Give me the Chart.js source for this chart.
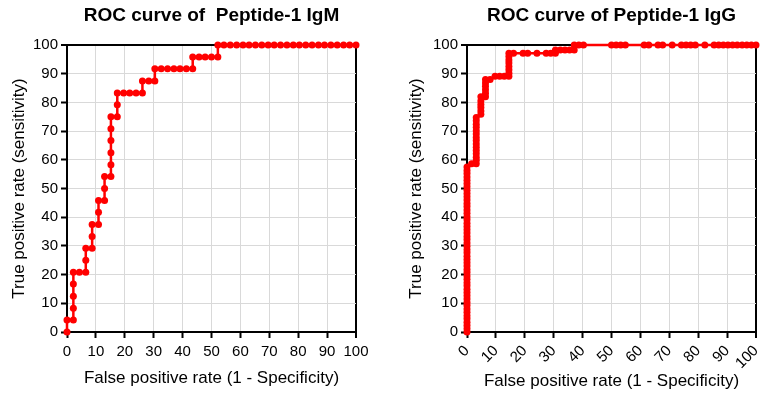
<!DOCTYPE html>
<html>
<head>
<meta charset="utf-8">
<script src="https://cdn.jsdelivr.net/npm/chart.js@4"></script>
<style>
  body { margin: 0; background: #fff; }
  .box { position: absolute; top: 0; width: 384px; height: 400px; }
</style>
</head>
<body>
<div class="box" style="left:0"><canvas id="igm"></canvas></div>
<div class="box" style="left:384px"><canvas id="igg"></canvas></div>
<script>
// IgM ROC points (false positive rate %, true positive rate %)
const igmFpr = [0, 0, 2.2, 2.2, 2.2, 2.2, 2.2, 4.3, 6.5, 6.5, 6.5, 8.7, 8.7, 8.7, 10.9, 10.9, 10.9,
  13.0, 13.0, 13.0, 15.2, 15.2, 15.2, 15.2, 15.2, 15.2, 17.4, 17.4, 17.4, 19.6, 21.7, 23.9, 26.1, 26.1,
  28.3, 30.4, 30.4, 32.6, 34.8, 37.0, 39.1, 41.3, 43.5, 43.5, 45.7, 47.8, 50.0, 52.2, 52.2,
  54.3, 56.5, 58.7, 60.9, 63.0, 65.2, 67.4, 69.6, 71.7, 73.9, 76.1, 78.3, 80.4, 82.6, 84.8, 87.0,
  89.1, 91.3, 93.5, 95.7, 97.8, 100];
const igmTpr = [0, 4.2, 4.2, 8.3, 12.5, 16.7, 20.8, 20.8, 20.8, 25.0, 29.2, 29.2, 33.3, 37.5, 37.5, 41.7, 45.8,
  45.8, 50.0, 54.2, 54.2, 58.3, 62.5, 66.7, 70.8, 75.0, 75.0, 79.2, 83.3, 83.3, 83.3, 83.3, 83.3, 87.5,
  87.5, 87.5, 91.7, 91.7, 91.7, 91.7, 91.7, 91.7, 91.7, 95.8, 95.8, 95.8, 95.8, 95.8, 100,
  100, 100, 100, 100, 100, 100, 100, 100, 100, 100, 100, 100, 100, 100, 100, 100,
  100, 100, 100, 100, 100, 100];

// IgG ROC points
const iggFpr = [0, 0, 0, 0, 0, 0, 0, 0, 0, 0, 0, 0, 0, 0, 0, 0, 0, 0, 0, 0, 0, 0, 0, 0, 0, 0,
  0, 0, 0, 0, 0, 0, 0, 0, 0, 0, 0, 0, 0, 0, 0, 0, 0, 0, 0, 0, 0, 0, 0, 0, 0,
  1.6, 3.2, 3.2, 3.2, 3.2, 3.2, 3.2, 3.2, 3.2, 3.2, 3.2, 3.2, 3.2, 3.2, 3.2, 3.2,
  4.8, 4.8, 4.8, 4.8, 4.8, 4.8, 6.4, 6.4, 6.4, 6.4, 6.4, 6.4, 8.0, 9.7, 11.3, 12.9, 14.5,
  14.5, 14.5, 14.5, 14.5, 14.5, 14.5, 14.5, 16.1, 19.4, 21.0, 24.2, 27.4, 29.0, 30.6, 30.6,
  32.3, 33.9, 35.5, 37.1, 37.1, 38.7, 40.3,
  50.0, 51.6, 53.2, 54.8, 61.3, 62.9, 66.1, 67.7, 71.0, 74.2, 75.8, 77.4, 79.0, 82.3,
  85.5, 87.1, 88.7, 90.3, 91.9, 93.5, 95.2, 96.8, 98.4, 100];
const iggTpr = [0, 1.1, 2.3, 3.4, 4.6, 5.7, 6.9, 8.0, 9.2, 10.3, 11.5, 12.6, 13.8, 14.9, 16.1, 17.2,
  18.4, 19.5, 20.7, 21.8, 23.0, 24.1, 25.3, 26.4, 27.6, 28.7, 29.9, 31.0, 32.2, 33.3, 34.5, 35.6,
  36.8, 37.9, 39.1, 40.2, 41.4, 42.5, 43.7, 44.8, 46.0, 47.1, 48.3, 49.4, 50.6, 51.7, 52.9, 54.0,
  55.2, 56.3, 57.5,
  58.6, 58.6, 59.8, 60.9, 62.1, 63.2, 64.4, 65.5, 66.7, 67.8, 69.0, 70.1, 71.3, 72.4, 73.6, 74.7,
  75.9, 77.0, 78.2, 79.3, 80.5, 82.0, 82.0, 83.2, 84.4, 85.6, 86.8, 88.0, 88.0, 89.1, 89.1, 89.1, 89.1,
  90.2, 91.4, 92.5, 93.7, 94.8, 96.0, 97.1, 97.1, 97.1, 97.1, 97.1, 97.1, 97.1, 97.1, 98.3,
  98.3, 98.3, 98.3, 98.3, 100, 100, 100,
  100, 100, 100, 100, 100, 100, 100, 100, 100, 100, 100, 100, 100, 100,
  100, 100, 100, 100, 100, 100, 100, 100, 100, 100];

const tickValues = [0, 10, 20, 30, 40, 50, 60, 70, 80, 90, 100];

Chart.defaults.font.family = '"Liberation Sans", Arial, sans-serif';
Chart.defaults.color = '#000';

const plotTitle = {
  id: 'plotTitle',
  afterDraw(chart, args, opts) {
    const { ctx, chartArea } = chart;
    ctx.save();
    ctx.font = 'bold 19px "Liberation Sans", Arial, sans-serif';
    ctx.fillStyle = '#000';
    ctx.textAlign = 'center';
    ctx.textBaseline = 'middle';
    ctx.fillText(opts.text, (chartArea.left + chartArea.right) / 2, 16);
    ctx.restore();
  }
};

function gridColor(c) {
  return c.tick && c.tick.value === 100 ? '#000' : '#d9d9d9';
}
function gridWidth(c) {
  return c.tick && c.tick.value === 100 ? 2 : 1;
}

function makeChart(id, xs, ys, title, opt) {
  const points = xs.map((x, i) => ({ x: x, y: ys[i] }));
  return new Chart(document.getElementById(id), {
    type: 'scatter',
    data: {
      datasets: [{
        data: points,
        showLine: true,
        borderColor: '#ff0000',
        backgroundColor: '#ff0000',
        borderWidth: 2.5,
        pointRadius: 3.5,
        pointBorderWidth: 0,
        tension: 0,
        clip: false
      }]
    },
    options: {
      responsive: true,
      maintainAspectRatio: false,
      animation: false,
      layout: { padding: { top: 45, left: opt.padLeft, right: opt.padRight, bottom: 0 } },
      plugins: {
        legend: { display: false },
        tooltip: { enabled: false },
        plotTitle: { text: title }
      },
      scales: {
        x: {
          type: 'linear',
          min: 0,
          max: 100,
          afterBuildTicks: s => { s.ticks = tickValues.map(v => ({ value: v })); },
          afterFit: s => {
            s.height = 68;
            s.paddingLeft = 0;
            s.paddingRight = 0;
          },
          ticks: {
            font: { size: 15 },
            color: '#000',
            padding: opt.xTickPad,
            autoSkip: false,
            minRotation: opt.rotation,
            maxRotation: opt.rotation
          },
          grid: { color: gridColor, lineWidth: gridWidth, tickLength: 6, tickColor: '#000', tickWidth: 2 },
          border: { color: '#000', width: 2 },
          title: {
            display: true,
            text: 'False positive rate (1 - Specificity)',
            font: { size: 17 },
            color: '#000',
            padding: { top: 0, bottom: opt.xTitlePad }
          }
        },
        y: {
          min: 0,
          max: 100,
          afterBuildTicks: s => { s.ticks = tickValues.map(v => ({ value: v })); },
          afterFit: s => { s.width = 67; },
          ticks: { font: { size: 15 }, color: '#000', padding: 3, autoSkip: false },
          grid: { color: gridColor, lineWidth: gridWidth, tickLength: 6, tickColor: '#000', tickWidth: 2 },
          border: { color: '#000', width: 2 },
          title: {
            display: true,
            text: 'True positive rate (sensitivity)',
            font: { size: 17 },
            color: '#000',
            padding: { top: opt.yTitlePad, bottom: 0 }
          }
        }
      }
    },
    plugins: [plotTitle]
  });
}

makeChart('igm', igmFpr, igmTpr, 'ROC curve of  Peptide-1 IgM',
  { padLeft: 0, padRight: 28, rotation: 0, xTickPad: 5, xTitlePad: 11.8, yTitlePad: 8.8 });
makeChart('igg', iggFpr, iggTpr, 'ROC curve of Peptide-1 IgG',
  { padLeft: 16, padRight: 12, rotation: 45, xTickPad: 4, xTitlePad: 8.8, yTitlePad: 5.8 });
</script>
</body>
</html>
